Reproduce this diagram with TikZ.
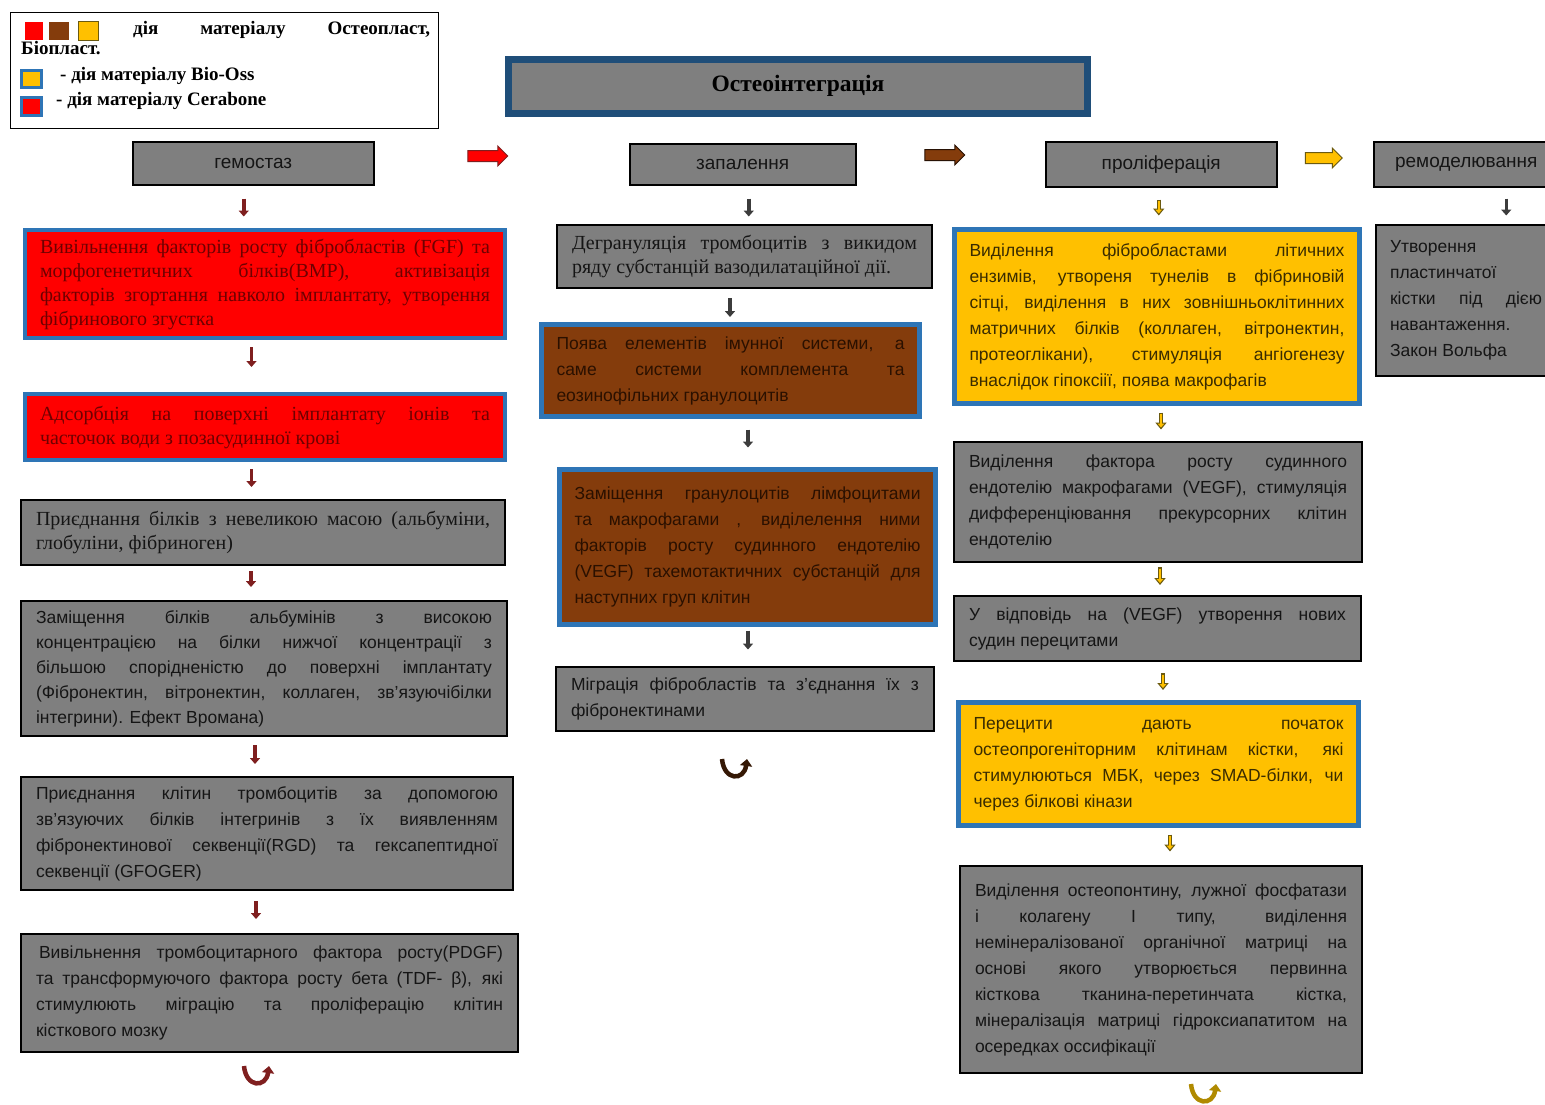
\documentclass[tikz,border=0pt]{standalone}
\usepackage{fontspec}
\setmainfont{Liberation Serif}
\setsansfont{Liberation Sans}
\usetikzlibrary{arrows.meta,shapes.arrows}

\definecolor{boxgray}{HTML}{7F7F7F}
\definecolor{bluebd}{HTML}{2E75B6}
\definecolor{titlebd}{HTML}{1F4E79}
\definecolor{brownc}{HTML}{843C0C}
\definecolor{yellowc}{HTML}{FFC000}
\definecolor{darkred}{HTML}{6E0000}
\definecolor{browntext}{HTML}{2A1000}
\definecolor{yellowtext}{HTML}{3A2C00}
\definecolor{arrred}{HTML}{7F1F1F}
\definecolor{arrdark}{HTML}{3C3C3C}
\definecolor{olivec}{HTML}{6B5A10}
\definecolor{goldc}{HTML}{B08A00}
\definecolor{graytext}{HTML}{151515}

\newcommand\serifbody{\rmfamily\fontsize{20}{24}\selectfont}
\newcommand\sansbody{\sffamily\fontsize{17.5}{26}\selectfont}
\newcommand\yarr[2]{%
  \draw[line width=4.5pt, draw=olivec, -{Triangle[length=7pt,width=11pt]}] #1 -- ++(0,#2);
  \draw[line width=2pt, draw=yellowc, -{Triangle[length=4pt,width=6.5pt]}] #1 ++(0,1.5) -- ++(0,#2-3.5);}

\begin{document}
\begin{tikzpicture}[x=1pt,y=-1pt,
  boxbase/.style={anchor=north west, inner xsep=15pt, inner ysep=3pt, align=justify, outer sep=0pt},
  graybox/.style={boxbase, draw=black, line width=1.5pt, fill=boxgray, text=graytext},
  serifbox/.style={graybox, font=\serifbody},
  sansbox/.style={graybox, font=\sansbody},
  redbox/.style={boxbase, draw=bluebd, line width=4.5pt, fill=red, text=darkred, font=\serifbody},
  brownbox/.style={boxbase, draw=bluebd, line width=5pt, fill=brownc, text=browntext, font=\sansbody},
  yellowbox/.style={boxbase, draw=bluebd, line width=5pt, fill=yellowc, text=yellowtext, font=\sansbody},
  hdr/.style={anchor=north west, draw=black, line width=1.5pt, fill=boxgray, text=graytext,
    font=\sffamily\fontsize{19}{21}\selectfont, inner sep=0pt},
  legtext/.style={anchor=base west, inner sep=0pt, font=\rmfamily\bfseries\fontsize{19}{22}\selectfont},
  sq/.style={inner sep=0pt, minimum width=18pt, minimum height=18pt},
  varr/.style={line width=3.5pt, draw=#1, -{Triangle[length=6pt,width=10pt]}},
  harrow/.style={single arrow, single arrow head extend=4.5pt, minimum height=40pt,
    inner xsep=0pt, inner ysep=5pt, line width=1pt},
  uturn/.pic={\draw[line width=4.5pt, -{Triangle[length=7pt,width=12pt]}, pic actions]
    (-13,-9) .. controls (-11,13) and (9,13) .. (12,-9);}
]
\useasboundingbox (0,0) rectangle (1545,1104);
\clip (0,0) rectangle (1545,1104);
\fill[white] (0,0) rectangle (1545,1104);

% Legend
\node[draw=black, line width=1.2pt, fill=white, anchor=north west, minimum width=428pt,
  minimum height=116pt, inner sep=0pt] (legend) at (10,12) {};
\node[sq, fill=red] (sqr) at (34,31) {};
\node[sq, fill=brownc, minimum width=20pt] (sqb) at (59,31) {};
\node[sq, fill=yellowc, draw=olivec, line width=0.8pt, minimum width=20pt, minimum height=19pt] (sqy) at (88,31) {};
\node[sq, fill=yellowc, draw=bluebd, line width=3pt, minimum width=20pt, minimum height=17pt] (sqbio) at (31,79) {};
\node[sq, fill=red, draw=bluebd, line width=3pt, minimum width=20pt, minimum height=18pt] (sqcer) at (31,106) {};
\node[legtext] (lt1) at (133,34) {\hbox to 297pt{дія\hfill матеріалу\hfill Остеопласт,}};
\node[legtext] (lt2) at (21,54) {Біопласт.};
\node[legtext] (lt3) at (60,80) {- дія матеріалу Bio-Oss};
\node[legtext] (lt4) at (56,105) {- дія матеріалу Cerabone};

% Title
\node[anchor=north west, draw=titlebd, line width=7pt, fill=boxgray, minimum width=579pt,
  minimum height=54pt, inner sep=0pt, text=black,
  font=\rmfamily\bfseries\fontsize{23.5}{25}\selectfont] (title) at (505,55.5) {Остеоінтеграція};

% Headers
\node[hdr, minimum width=241pt, minimum height=43pt] (h1) at (132,141) {гемостаз};
\node[hdr, minimum width=226pt, minimum height=41pt] (h2) at (629,143) {запалення};
\node[hdr, minimum width=231pt, minimum height=45pt] (h3) at (1045,141) {проліферація};
\node[hdr, minimum width=185pt, minimum height=45pt] (h4) at (1373,141) {ремоделювання};

% Horizontal arrows between phases
\node[harrow, fill=red, draw=arrred] (ha1) at (485,156) {};
\node[harrow, fill=brownc, draw=black!70!brownc] (ha2) at (942,155) {};
\node[harrow, fill=yellowc, draw=olivec, minimum height=37pt] (ha3) at (1321,158) {};

% Column 1: hemostasis
\node[redbox, text width=450pt, minimum height=108pt] (b1) at (25,230)
 {Вивільнення факторів росту фібробластів (FGF) та\linebreak морфогенетичних білків(BMP), активізація\linebreak факторів згортання навколо імплантату, утворення\linebreak фібринового згустка};
\node[redbox, text width=450pt, minimum height=66pt] (b2) at (25,394)
 {Адсорбція на поверхні імплантату іонів та\linebreak часточок води з позасудинної крові};
\node[serifbox, text width=454pt, minimum height=65pt] (b3) at (21,500)
 {Приєднання білків з невеликою масою (альбуміни,\linebreak глобуліни, фібриноген)};
\node[sansbox, text width=456pt, minimum height=135pt, font=\sffamily\fontsize{17.5}{25}\selectfont] (b4) at (21,601)
 {Заміщення білків альбумінів з високою\linebreak концентрацією на білки нижчої концентрації з\linebreak більшою спорідненістю до поверхні імплантату\linebreak (Фібронектин, вітронектин, коллаген, зв’язуючібілки\linebreak інтегрини). Ефект Вромана)};
\node[sansbox, text width=462pt, minimum height=113pt] (b5) at (21,777)
 {Приєднання клітин тромбоцитів за допомогою\linebreak зв’язуючих білків інтегринів з їх виявленням\linebreak фібронектинової секвенції(RGD) та гексапептидної\linebreak секвенції (GFOGER)};
\node[sansbox, text width=467pt, minimum height=118pt] (b6) at (21,934)
 {\hspace*{3pt}Вивільнення тромбоцитарного фактора росту(PDGF)\linebreak та трансформуючого фактора росту бета (TDF- β), які\linebreak стимулюють міграцію та проліферацію клітин\linebreak кісткового мозку};

% Column 2: inflammation
\node[serifbox, text width=345pt, minimum height=63pt] (c1) at (557,225)
 {Дегрануляція тромбоцитів з викидом\linebreak ряду субстанцій вазодилатаційної дії.};
\node[brownbox, text width=348pt, minimum height=92pt] (c2) at (541.5,324.5)
 {Поява елементів імунної системи, а\linebreak саме системи комплемента та\linebreak еозинофільних гранулоцитів};
\node[brownbox, text width=346pt, minimum height=155pt] (c3) at (559.5,469.5)
 {Заміщення гранулоцитів лімфоцитами\linebreak та макрофагами , виділелення ними\linebreak факторів росту судинного ендотелію\linebreak (VEGF) тахемотактичних субстанцій для\linebreak наступних груп клітин};
\node[sansbox, text width=348pt, minimum height=64pt] (c4) at (556,667)
 {Міграція фібробластів та з’єднання їх з\linebreak фібронектинами};

% Column 3: proliferation
\node[yellowbox, text width=375pt, minimum height=174pt] (d1) at (954.5,229.5)
 {Виділення фібробластами літичних\linebreak ензимів, утвореня тунелів в фібриновій\linebreak сітці, виділення в них зовнішньоклітинних\linebreak матричних білків (коллаген, вітронектин,\linebreak протеоглікани), стимуляція ангіогенезу\linebreak внаслідок гіпоксіії, поява макрофагів};
\node[sansbox, text width=378pt, minimum height=120pt] (d2) at (954,442)
 {Виділення фактора росту судинного\linebreak ендотелію макрофагами (VEGF), стимуляція\linebreak дифференціювання прекурсорних клітин\linebreak ендотелію};
\node[sansbox, text width=377pt, minimum height=65pt] (d3) at (954,596)
 {У відповідь на (VEGF) утворення нових\linebreak судин перецитами};
\node[yellowbox, text width=370pt, minimum height=123pt] (d4) at (958.5,702.5)
 {Перецити дають початок\linebreak остеопрогеніторним клітинам кістки, які\linebreak стимулюються МБК, через SMAD-білки, чи\linebreak через білкові кінази};
\node[sansbox, text width=372pt, minimum height=207pt] (d5) at (960,866)
 {Виділення остеопонтину, лужної фосфатази\linebreak і колагену I типу, виділення\linebreak немінералізованої органічної матриці на\linebreak основі якого утворюється первинна\linebreak кісткова тканина-перетинчата кістка,\linebreak мінералізація матриці гідроксиапатитом на\linebreak осередках оссифікації};

% Column 4: remodelling
\node[sansbox, inner xsep=14pt, text width=152pt, minimum height=151pt] (e1) at (1376,225)
 {Утворення\\ пластинчатої\\ кістки під дією\linebreak навантаження.\\ Закон Вольфа};

% Vertical arrows, column 1
\draw[varr=arrred] ([shift={(-9.5pt,-13pt)}]h1.south) -- ++(0,18);
\draw[varr=arrred] ([shift={(-13.5pt,-9pt)}]b1.south) -- ++(0,20);
\draw[varr=arrred] ([shift={(-13.5pt,-9pt)}]b2.south) -- ++(0,18);
\draw[varr=arrred] ([shift={(-12pt,-6pt)}]b3.south) -- ++(0,16);
\draw[varr=arrred] ([shift={(-9pt,-9pt)}]b4.south) -- ++(0,19);
\draw[varr=arrred] ([shift={(-11pt,-11pt)}]b5.south) -- ++(0,18);
\pic[draw=arrred] at ([shift={(-12.5pt,-23pt)}]b6.south) {uturn};

% Vertical arrows, column 2
\draw[varr=arrdark] ([shift={(6pt,-13pt)}]h2.south) -- ++(0,18);
\draw[varr=arrdark] ([shift={(-14.5pt,-10pt)}]c1.south) -- ++(0,19);
\draw[varr=arrdark] ([shift={(17.5pt,-13pt)}]c2.south) -- ++(0,18);
\draw[varr=arrdark] ([shift={(0.5pt,-6pt)}]c3.south) -- ++(0,19);
\pic[draw=black!60!brownc] at ([shift={(-10pt,-37pt)}]c4.south) {uturn};

% Vertical arrows, column 3
\yarr{([shift={(-2.5pt,-12pt)}]h3.south)}{16}
\yarr{([shift={(4pt,-9pt)}]d1.south)}{17}
\yarr{([shift={(2pt,-5pt)}]d2.south)}{18}
\yarr{([shift={(5.5pt,-12pt)}]d3.south)}{17}
\yarr{([shift={(11.5pt,-9pt)}]d4.south)}{17}
\pic[draw=goldc] at ([shift={(43pt,-20pt)}]d5.south) {uturn};

% Column 4 arrow
\draw[varr=arrdark] ([shift={(40pt,-11pt)}]h4.south) -- ++(0,17);
\end{tikzpicture}
\end{document}
